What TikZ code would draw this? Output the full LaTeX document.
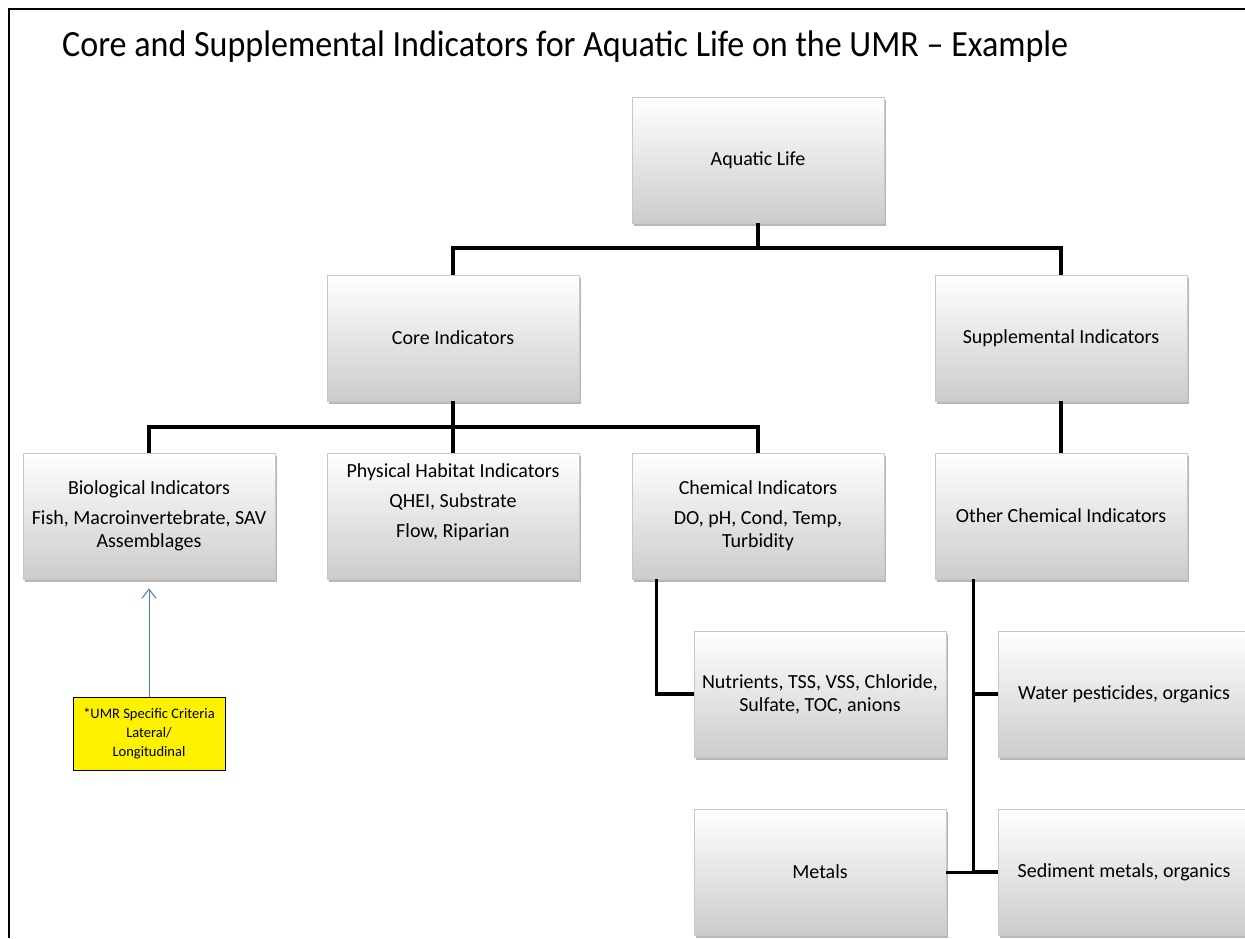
\documentclass[tikz,border=0pt]{standalone}
\usepackage{fontspec}
\setmainfont{Carlito}
\usetikzlibrary{arrows.meta,shadows}
\definecolor{arrowblue}{RGB}{74,126,187}
\definecolor{boxedge}{RGB}{200,200,200}
\begin{document}
\begin{tikzpicture}[x=1pt,y=-1pt,
  box/.style={draw=boxedge, line width=0.8pt, top color=white, middle color=white!95!black, bottom color=black!20,
    minimum width=252pt, minimum height=126pt, inner sep=0pt, align=center,
    font=\fontsize{20}{23}\selectfont,
    drop shadow={shadow xshift=2pt, shadow yshift=-3pt, opacity=0.4, fill=black!70}},
  note/.style={draw=black, line width=0.8pt, fill=yellow, minimum width=152pt, minimum height=73pt,
    inner sep=0pt, align=center, font=\fontsize{14.5}{19}\selectfont},
  conn/.style={line width=3.5pt, black},
  upref/.style={line width=1pt, arrowblue, -{Straight Barb[length=9pt, width=14pt, line width=1pt]}},
  frameline/.style={line width=1.3pt, black}
]
\useasboundingbox (0,0) rectangle (1245,938);
\fill[white] (0,0) rectangle (1245,938);
\draw[frameline] (9,938) -- (9,9) -- (1245,9);

\node[anchor=base west, inner sep=0pt, font=\fontsize{37}{44}\selectfont] (title) at (62,56)
  {\scalebox{0.92}[1]{Core and Supplemental Indicators for Aquatic Life on the UMR -- Example}};

\node[box] (aq)    at (758,160) {Aquatic Life};
\node[box] (core)  at (453,338) {Core Indicators};
\node[box] (supp)  at (1061,338) {Supplemental Indicators};
\node[box] (bio)   at (149,516) {Biological Indicators\\[7pt]Fish, Macroinvertebrate, SAV\\Assemblages};
\node[box] (phys)  at (453,516) {Physical Habitat Indicators\\[7pt]QHEI, Substrate\\[7pt]Flow, Riparian\\[1pt]\strut};
\node[box] (chem)  at (758,516) {Chemical Indicators\\[7pt]DO, pH, Cond, Temp,\\Turbidity};
\node[box] (oth)   at (1061,516) {Other Chemical Indicators};
\node[box] (nut)   at (820,694) {Nutrients, TSS, VSS, Chloride,\\Sulfate, TOC, anions};
\node[box] (water) at (1124,694) {Water pesticides, organics};
\node[box] (met)   at (820,872) {Metals};
\node[box] (sed)   at (1124,872) {Sediment metals, organics};
\node[note] (yel)  at (149,733.5) {*UMR Specific Criteria\\Lateral/\\Longitudinal};

\coordinate (bar1) at (0,248);
\coordinate (bar2) at (0,427);
\coordinate (ctrunk) at ([xshift=25pt]chem.south west);
\coordinate (otrunk) at ([xshift=39pt]oth.south west);

\draw[conn] (aq.south) -- (aq.south |- bar1);
\draw[conn] (core.north) |- (supp.north |- bar1) -- (supp.north);
\draw[conn] (core.south) -- (phys.north);
\draw[conn] (bio.north) |- (chem.north |- bar2) -- (chem.north);
\draw[conn] (supp.south) -- (oth.north);
\draw[conn] (ctrunk) |- (nut.west);
\draw[conn] (otrunk) |- (sed.west);
\draw[conn] (water.west) -- (water.west -| otrunk);
\draw[conn, line width=3pt] (met.east) -- (otrunk |- met.east);
\draw[upref] (yel.north) -- ([yshift=-9pt]bio.south);
\end{tikzpicture}
\end{document}
